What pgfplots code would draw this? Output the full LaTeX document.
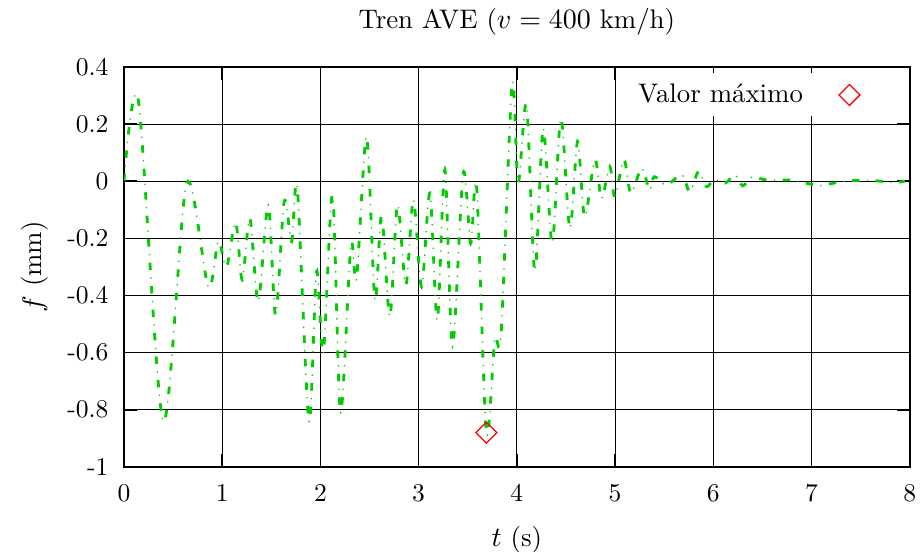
\documentclass[border=0pt]{standalone}
\usepackage{fontspec}
\usepackage{pgfplots}
\pgfplotsset{compat=1.18}
\usepackage{pgfplotstable}
\definecolor{lgreen}{RGB}{0,204,0}
\newcommand{\lblfont}{\fontsize{10.5}{12.6}\selectfont}
\pgfplotstableread{
t f
0.000 0.000
0.146 0.285
0.400 -0.840
0.638 -0.007
0.858 -0.369
0.960 -0.211
1.045 -0.299
1.137 -0.144
1.204 -0.345
1.282 -0.130
1.367 -0.421
1.469 -0.083
1.544 -0.468
1.632 -0.071
1.707 -0.211
1.765 -0.025
1.883 -0.840
1.961 -0.316
2.030 -0.600
2.124 -0.048
2.205 -0.810
2.310 -0.223
2.368 -0.340
2.470 0.156
2.555 -0.415
2.623 -0.118
2.707 -0.474
2.785 -0.083
2.870 -0.363
2.947 -0.065
3.030 -0.369
3.115 -0.042
3.190 -0.486
3.267 0.040
3.345 -0.579
3.454 0.028
3.530 -0.217
3.590 -0.019
3.690 -0.880
3.775 -0.555
3.840 -0.530
3.952 0.340
4.013 -0.007
4.098 0.267
4.183 -0.316
4.268 0.185
4.360 -0.217
4.448 0.220
4.540 -0.165
4.618 0.139
4.690 -0.124
4.794 0.075
4.862 -0.060
4.946 0.051
4.997 -0.054
5.090 0.075
5.160 -0.042
5.270 0.045
5.350 -0.030
5.400 0.016
5.520 -0.013
5.680 0.022
5.760 -0.036
5.850 0.034
5.930 -0.019
6.010 0.005
6.120 -0.007
6.220 0.022
6.300 -0.016
6.390 0.014
6.550 0.004
6.780 0.004
6.950 -0.007
7.080 -0.016
7.220 -0.007
7.390 0.002
7.630 0.002
7.840 -0.004
7.950 0.000
}\datatable
\begin{document}
\begin{tikzpicture}
\path[use as bounding box] (0,0) rectangle (360pt,216pt);
\begin{axis}[
  at={(48.5pt,33.3pt)}, anchor=south west,
  scale only axis, width=307.5pt, height=156.5pt,
  xmin=0, xmax=8, ymin=-1, ymax=0.4,
  xtick={0,1,2,3,4,5,6,7,8},
  ytick={-1,-0.8,-0.6,-0.4,-0.2,0,0.2,0.4},
  yticklabels={-1,-0.8,-0.6,-0.4,-0.2,0,0.2,0.4},
  grid=major,
  major grid style={black, line width=0.4pt},
  axis line style={black, line width=0.8pt},
  tick align=inside, major tick length=5pt,
  tick style={black, line width=0.6pt},
  xticklabel style={yshift=-3.7pt},
  yticklabel style={xshift=-2.5pt},
  title={Tren AVE ($v = 400$ km/h)},
  every axis title/.style={at={(axis description cs:0.5,1.1125)}, anchor=center, font=\lblfont},
  xlabel={$t$ (s)},
  every axis x label/.style={at={(axis description cs:0.5,-0.1827)}, anchor=center, font=\lblfont},
  ylabel={$f$ (mm)},
  every axis y label/.style={at={(axis description cs:-0.113,0.5)}, rotate=90, anchor=center, font=\lblfont},
  legend plot pos=right,
  legend image code/.code={%
    \path (0pt,0pt);
    \draw[mark repeat=1,mark phase=1,#1] plot coordinates {(16pt,0pt)};},
  legend style={at={(axis description cs:0.947,0.985)}, anchor=north east,
    draw=none, fill=white, cells={anchor=east}, font=\lblfont},
]
\addplot[forget plot, lgreen, line width=1.1pt, smooth, tension=0.5,
  dash pattern=on 2.9pt off 6.3pt] table {\datatable};
\addplot[forget plot, lgreen, line width=0.5pt, smooth, tension=0.5,
  dash pattern=on 0.5pt off 8.7pt, dash phase=3.4pt] table {\datatable};
\addplot[only marks, red, mark=square, mark size=2.9pt,
  mark options={rotate=45, line width=0.5pt, solid}] coordinates {(3.69,-0.88)};
\legend{Valor máximo}
\end{axis}
\end{tikzpicture}
\end{document}
